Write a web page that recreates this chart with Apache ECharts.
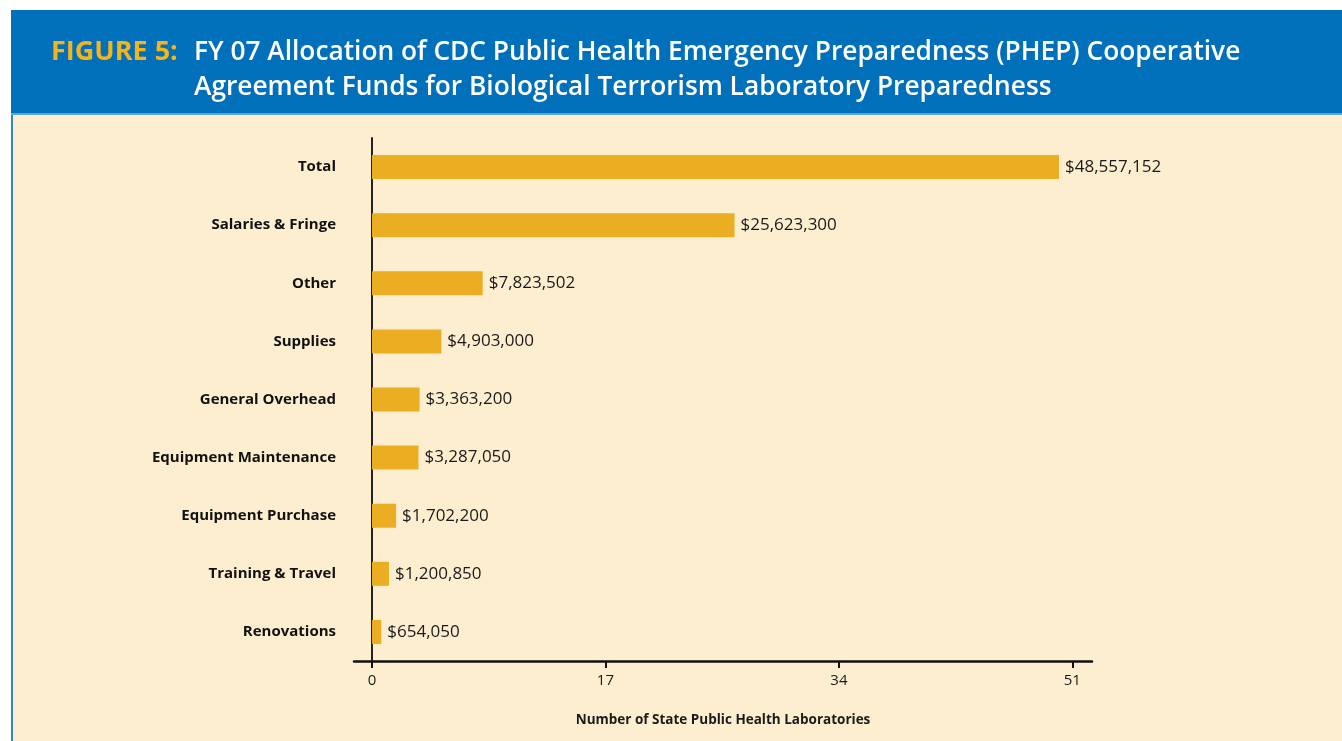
<!DOCTYPE html>
<html>
<head>
<meta charset="utf-8">
<script src="https://cdn.jsdelivr.net/npm/echarts@6/dist/echarts.min.js"></script>
<style>
html,body{margin:0;padding:0;background:#fff;}
#c{width:1342px;height:741px;}
</style>
</head>
<body>
<div id="c"></div>
<script>
const categories = ['Total','Salaries & Fringe','Other','Supplies','General Overhead','Equipment Maintenance','Equipment Purchase','Training & Travel','Renovations'];
const values = [48557152, 25623300, 7823502, 4903000, 3363200, 3287050, 1702200, 1200850, 654050];
const xTicks = [0, 17, 34, 51];
const titleLabel = 'FIGURE 5:';
const titleText = 'FY 07 Allocation of CDC Public Health Emergency Preparedness (PHEP) Cooperative\nAgreement Funds for Biological Terrorism Laboratory Preparedness';
const axisName = 'Number of State Public Health Laboratories';

const chart = echarts.init(document.getElementById('c'), null, {renderer:'canvas'});
const fmt = v => '$' + v.toLocaleString('en-US');

chart.setOption({
  animation: false,
  backgroundColor: '#ffffff',
  graphic: [
    {type:'rect', shape:{x:11,y:10,width:1331,height:104}, style:{fill:'#0070BA'}, z:-10},
    {type:'rect', shape:{x:11,y:113,width:1331,height:2}, style:{fill:'#5AA6DC'}, z:-10},
    {type:'rect', shape:{x:11,y:115,width:1331,height:626}, style:{fill:'#FDEED0'}, z:-10},
    {type:'rect', shape:{x:11,y:115,width:2,height:626}, style:{fill:'#2F86C9'}, z:-9}
  ],
  title: [
    {text: titleLabel, left: 46, top: 30, textStyle:{color:'#F6B41B', fontFamily:'Open Sans', fontWeight:'bold', fontSize:27, lineHeight:35}},
    {text: titleText, left: 189, top: 30, textStyle:{color:'#ffffff', fontFamily:'Open Sans', fontWeight:600, fontSize:26.3, lineHeight:35}}
  ],
  grid: {left: 354, right: 250, top: 138, bottom: 80, containLabel: false},
  xAxis: [
    {
      type:'value', min:-1.31, max:52.43, position:'bottom',
      name: axisName, nameLocation:'middle', nameGap: 52,
      nameTextStyle:{fontFamily:'Open Sans', fontWeight:'bold', fontSize:13.5, color:'#1a1a1a'},
      axisLine:{show:true, lineStyle:{color:'#111', width:2.5}},
      axisTick:{show:true, customValues: xTicks, length:7, inside:false, lineStyle:{color:'#111', width:2}},
      axisLabel:{customValues: xTicks, fontFamily:'Open Sans', fontSize:15, color:'#1a1a1a', margin:12},
      splitLine:{show:false}
    },
    {
      type:'value', min:-1.272e6, max:50.89e6, show:false, splitLine:{show:false}
    }
  ],
  yAxis: {
    type:'category', data: categories, inverse:true,
    axisLine:{show:true, onZero:true, lineStyle:{color:'#222', width:2}},
    axisTick:{show:false},
    axisLabel:{fontFamily:'Open Sans', fontWeight:'bold', fontSize:15, color:'#111', margin:18}
  },
  series: [{
    type:'bar', xAxisIndex:1, data: values, barWidth:24,
    itemStyle:{color:'#EBAD22'},
    label:{show:true, position:'right', distance:6, formatter: p => fmt(p.value),
      fontFamily:'Open Sans', fontSize:17, color:'#1a1a1a'}
  }]
});
</script>
</body>
</html>
